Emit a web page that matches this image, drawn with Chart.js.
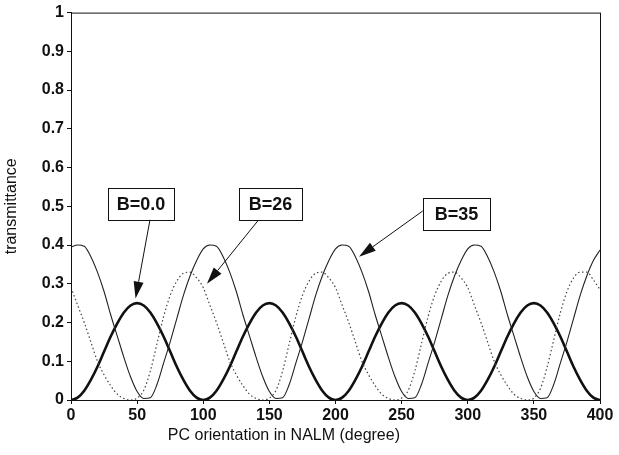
<!DOCTYPE html>
<html>
<head>
<meta charset="utf-8">
<title>transmittance vs PC orientation</title>
<script src="https://cdn.jsdelivr.net/npm/chart.js@4.4.1/dist/chart.umd.min.js"></script>
<style>
    html, body { margin: 0; padding: 0; background: #fff; }
    #wrap { width: 619px; height: 455px; position: relative; }
</style>
</head>
<body>
<div id="wrap"><canvas id="chart"></canvas></div>
<script>
// PC orientation in the NALM, degrees
const degrees = [
    0, 5, 10, 15, 20, 25, 30, 35, 40, 45, 50, 55, 60, 65, 70, 75, 80, 85, 90, 95,
    100, 105, 110, 115, 120, 125, 130, 135, 140, 145, 150, 155, 160, 165, 170, 175, 180, 185, 190, 195,
    200, 205, 210, 215, 220, 225, 230, 235, 240, 245, 250, 255, 260, 265, 270, 275, 280, 285, 290, 295,
    300, 305, 310, 315, 320, 325, 330, 335, 340, 345, 350, 355, 360, 365, 370, 375, 380, 385, 390, 395,
    400
];

// transmittance, B = 0.0 (thick line)
const transB00 = [
    0, 0.006, 0.024, 0.052, 0.086, 0.125, 0.164, 0.198, 0.226, 0.244, 0.25, 0.244, 0.226, 0.198, 0.164, 0.125, 0.086, 0.052, 0.024, 0.006,
    0, 0.006, 0.024, 0.052, 0.086, 0.125, 0.164, 0.198, 0.226, 0.244, 0.25, 0.244, 0.226, 0.198, 0.164, 0.125, 0.086, 0.052, 0.024, 0.006,
    0, 0.006, 0.024, 0.052, 0.086, 0.125, 0.164, 0.198, 0.226, 0.244, 0.25, 0.244, 0.226, 0.198, 0.164, 0.125, 0.086, 0.052, 0.024, 0.006,
    0, 0.006, 0.024, 0.052, 0.086, 0.125, 0.164, 0.198, 0.226, 0.244, 0.25, 0.244, 0.226, 0.198, 0.164, 0.125, 0.086, 0.052, 0.024, 0.006,
    0
];

// transmittance, B = 26 (dotted line)
const transB26 = [
    0.29, 0.245, 0.20, 0.15, 0.10, 0.065, 0.037, 0.015, 0.004, 0.0, 0.005, 0.025, 0.075, 0.145, 0.215, 0.27, 0.307, 0.327, 0.33, 0.315,
    0.29, 0.245, 0.20, 0.15, 0.10, 0.065, 0.037, 0.015, 0.004, 0.0, 0.005, 0.025, 0.075, 0.145, 0.215, 0.27, 0.307, 0.327, 0.33, 0.315,
    0.29, 0.245, 0.20, 0.15, 0.10, 0.065, 0.037, 0.015, 0.004, 0.0, 0.005, 0.025, 0.075, 0.145, 0.215, 0.27, 0.307, 0.327, 0.33, 0.315,
    0.29, 0.245, 0.20, 0.15, 0.10, 0.065, 0.037, 0.015, 0.004, 0.0, 0.005, 0.03, 0.085, 0.155, 0.225, 0.28, 0.315, 0.33, 0.33, 0.31,
    0.285
];

// transmittance, B = 35 (thin line)
const transB35 = [
    0.395, 0.40, 0.397, 0.37, 0.33, 0.28, 0.22, 0.165, 0.11, 0.06, 0.022, 0.004, 0.006, 0.04, 0.095, 0.15, 0.21, 0.27, 0.32, 0.36,
    0.39, 0.40, 0.397, 0.37, 0.33, 0.28, 0.22, 0.165, 0.11, 0.06, 0.022, 0.004, 0.006, 0.04, 0.095, 0.15, 0.21, 0.27, 0.32, 0.36,
    0.39, 0.40, 0.397, 0.37, 0.33, 0.28, 0.22, 0.165, 0.11, 0.06, 0.022, 0.004, 0.006, 0.04, 0.095, 0.15, 0.21, 0.27, 0.32, 0.36,
    0.39, 0.40, 0.397, 0.37, 0.33, 0.28, 0.22, 0.165, 0.11, 0.06, 0.022, 0.004, 0.006, 0.04, 0.095, 0.15, 0.21, 0.27, 0.32, 0.36,
    0.387
];

const FONT = '"Liberation Sans", Arial, Helvetica, sans-serif';

function toPoints(ys) {
    return degrees.map((d, i) => ({ x: d, y: ys[i] }));
}

// labelled boxes with arrows, placed in data units
const callouts = [
    { text: 'B=0.0', box: [28, 78, 0.547, 0.465], from: [59.7, 0.465], to: [48.8, 0.262] },
    { text: 'B=26',  box: [127, 174.7, 0.547, 0.465], from: [141.4, 0.463], to: [102.8, 0.30] },
    { text: 'B=35',  box: [266, 317, 0.522, 0.44], from: [266, 0.488], to: [217.8, 0.37] }
];

const figureMarks = {
    id: 'figureMarks',
    afterDraw(chart) {
        const { ctx, chartArea: a, scales: { x, y } } = chart;
        ctx.save();

        // frame around the plot
        ctx.strokeStyle = '#111';
        ctx.lineWidth = 1;
        ctx.strokeRect(a.left + 0.5, a.top + 0.5, a.right - a.left, a.bottom - a.top);

        // x axis title
        ctx.fillStyle = '#111';
        ctx.font = '16px ' + FONT;
        ctx.textAlign = 'center';
        ctx.textBaseline = 'middle';
        ctx.fillText('PC orientation in NALM (degree)', x.getPixelForValue(161), 436);

        callouts.forEach(c => {
            const x0 = x.getPixelForValue(c.box[0]), x1 = x.getPixelForValue(c.box[1]);
            const y0 = y.getPixelForValue(c.box[2]), y1 = y.getPixelForValue(c.box[3]);
            ctx.fillStyle = '#fff';
            ctx.fillRect(x0, y0, x1 - x0, y1 - y0);
            ctx.strokeStyle = '#111';
            ctx.lineWidth = 1;
            ctx.strokeRect(Math.round(x0) + 0.5, Math.round(y0) + 0.5, Math.round(x1 - x0), Math.round(y1 - y0));
            ctx.fillStyle = '#111';
            ctx.font = 'bold 18px ' + FONT;
            ctx.fillText(c.text, (x0 + x1) / 2, (y0 + y1) / 2 + 1);

            // arrow shaft and filled head
            const fx = x.getPixelForValue(c.from[0]), fy = y.getPixelForValue(c.from[1]);
            const tx = x.getPixelForValue(c.to[0]), ty = y.getPixelForValue(c.to[1]);
            const ang = Math.atan2(ty - fy, tx - fx);
            const len = 17, half = 5;
            const bx = tx - len * Math.cos(ang), by = ty - len * Math.sin(ang);
            ctx.beginPath();
            ctx.moveTo(fx, fy);
            ctx.lineTo(bx, by);
            ctx.lineWidth = 1;
            ctx.stroke();
            ctx.beginPath();
            ctx.moveTo(tx, ty);
            ctx.lineTo(bx + half * Math.sin(ang), by - half * Math.cos(ang));
            ctx.lineTo(bx - half * Math.sin(ang), by + half * Math.cos(ang));
            ctx.closePath();
            ctx.fill();
        });
        ctx.restore();
    }
};

const axisTicks = { color: '#111', font: { family: FONT, size: 16, weight: 'bold' } };

new Chart(document.getElementById('chart'), {
    type: 'line',
    data: {
        datasets: [
            {
                label: 'B=35',
                data: toPoints(transB35),
                borderColor: '#222',
                borderWidth: 1.1,
            },
            {
                label: 'B=26',
                data: toPoints(transB26),
                borderColor: '#444',
                borderWidth: 1.2,
                borderDash: [1.5, 2.5],
            },
            {
                label: 'B=0.0',
                data: toPoints(transB00),
                borderColor: '#111',
                borderWidth: 2.6,
            }
        ]
    },
    options: {
        responsive: true,
        maintainAspectRatio: false,
        animation: false,
        layout: { padding: { top: 12, right: 19, left: 0, bottom: 0 } },
        elements: {
            point: { radius: 0 },
            line: { cubicInterpolationMode: 'monotone', fill: false }
        },
        plugins: {
            legend: { display: false },
            tooltip: { enabled: false }
        },
        scales: {
            x: {
                type: 'linear',
                min: 0,
                max: 400,
                ticks: { ...axisTicks, stepSize: 50, padding: 2 },
                grid: { drawOnChartArea: false, drawTicks: true, tickLength: 4, color: '#111' },
                border: { color: '#111', width: 1 },
                afterFit: s => { s.height = 55; }
            },
            y: {
                min: 0,
                max: 1,
                ticks: {
                    ...axisTicks,
                    stepSize: 0.1,
                    padding: 3,
                    callback: v => String(Number(v.toFixed(1)))
                },
                grid: { drawOnChartArea: false, drawTicks: true, tickLength: 4, color: '#111' },
                border: { color: '#111', width: 1 },
                title: {
                    display: true,
                    text: 'transmittance',
                    color: '#111',
                    font: { family: FONT, size: 16 },
                    padding: { top: 2, bottom: 0 }
                },
                afterFit: s => { s.width = 71; }
            }
        }
    },
    plugins: [figureMarks]
});
</script>
</body>
</html>
